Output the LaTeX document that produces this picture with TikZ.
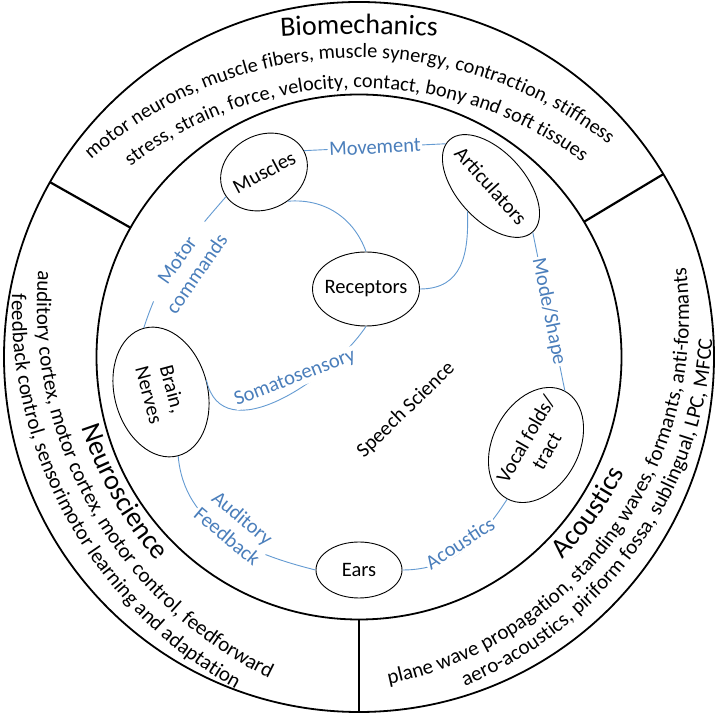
\documentclass[tikz,border=0pt]{standalone}
\usepackage{fontspec}
\setmainfont{Carlito}
\usetikzlibrary{shapes.geometric,decorations.text}
\definecolor{lblue}{RGB}{74,126,187}
\definecolor{cblue}{RGB}{100,155,210}
\newcommand\rfont{\fontsize{21}{21}\selectfont}
\newcommand\rfontb{\fontsize{20.3}{21}\selectfont}
\newcommand\tfont{\fontsize{28}{28}\selectfont}
\newcommand\nfont{\fontsize{20.5}{24}\selectfont}
\newcommand\ringline[6]{%
  \path[decorate,decoration={text along path,text align=center,text color=black,text={|#5|#6}}]
    ([shift={(#3:#2)}]#1) arc[start angle=#3,end angle=#4,radius=#2];}
\begin{document}
\begin{tikzpicture}[x=1pt,y=1pt,
  ellnode/.style={ellipse, draw=black, line width=0.9pt, inner sep=0pt},
  ntext/.style={font=\nfont, align=center, inner sep=0pt},
  conn/.style={draw=cblue, line width=0.9pt},
  lbl/.style={font=\nfont, text=lblue, fill=white, inner sep=1.5pt, align=center},
  ringc/.style={line width=1.8pt},
  divider/.style={line width=2.2pt}]
\useasboundingbox (0,0) rectangle (720,720);
\fill[white] (0,0) rectangle (720,720);
\coordinate (c) at (359,363);
\draw[ringc] (c) circle[radius=355];
\draw[ringc] (c) circle[radius=262.5];
\draw[divider] ([shift={(150.5:262.5)}]c) -- ([shift={(150.5:355)}]c);
\draw[divider] ([shift={(31:262.5)}]c) -- ([shift={(31:355)}]c);
\draw[divider] ([shift={(270:262.5)}]c) -- ([shift={(270:355)}]c);
% ring texts
\coordinate (cbt) at (359,-514);
\coordinate (cb) at (359,259);
\coordinate (cn) at (450,413);
\coordinate (ca) at (313,404);
\ringline{cbt}{1200}{100}{80}{\tfont}{Biomechanics}
\ringline{cb}{403}{161.7}{21.7}{\rfontb}{motor neurons, muscle fibers, muscle synergy, contraction, stiffness}
\ringline{cb}{373}{160.5}{20.5}{\rfontb}{stress, strain, force, velocity, contact, bony and soft tissues}
\ringline{cn}{388}{149.5}{269.5}{\tfont}{Neuroscience}
\ringline{cn}{413}{149.5}{269.5}{\rfont}{auditory cortex, motor cortex, motor control, feedforward}
\ringline{cn}{438}{149.5}{269.5}{\rfont}{feedback control, sensorimotor learning and adaptation}
\ringline{ca}{349}{264.5}{384.5}{\tfont}{Acoustics}
\ringline{ca}{376}{264.5}{384.5}{\rfont}{plane wave propagation, standing waves, formants, anti-formants}
\ringline{ca}{400}{264.5}{384.5}{\rfont}{aero-acoustics, piriform fossa, sublingual, LPC, MFCC}
% nodes
\node[ellnode, minimum width=90pt, minimum height=74pt, rotate=28] (mus) at (264,548) {};
\node[ellnode, minimum width=124pt, minimum height=68pt, rotate=-48] (art) at (491,534) {};
\node[ellnode, minimum width=107pt, minimum height=74pt] (rec) at (366,431) {};
\node[ellnode, minimum width=132pt, minimum height=93pt, rotate=-75] (brn) at (161,328) {};
\node[ellnode, minimum width=122pt, minimum height=86pt, rotate=62] (voc) at (536,275) {};
\node[ellnode, minimum width=86pt, minimum height=56pt] (ear) at (359,150) {};
\node[ntext, rotate=28] (must) at (mus) {Muscles};
\node[ntext, rotate=-48] (artt) at (art) {Articulators};
\node[ntext] (rect) at (rec) {Receptors};
\node[ntext, rotate=-75] (brnt) at (brn) {Brain,\\Nerves};
\node[ntext, rotate=60] (voct) at (voc) {Vocal folds/\\tract};
\node[ntext] (eart) at (ear) {Ears};
\node[ntext, rotate=44] (sci) at (406,310) {Speech Science};
% connectors
\draw[conn] (mus.east) -- node[lbl, sloped] (lmov) {Movement} (art.185);
\draw[conn] (art.east) -- node[lbl, sloped] (lmode) {Mode/Shape} (voc.east);
\draw[conn] (brn.180) to[out=72, in=-131] (mus.185);
\draw[conn] (mus.-79) to[out=5, in=110] (rec.north);
\draw[conn] (rec.east) to[out=0, in=-88, looseness=1.2] (art.-85);
\draw[conn] (brn.90) .. controls (222,268) and (330,340) .. (rec.south);
\draw[conn] (brn.0) to[out=-85, in=166] (ear.west);
\draw[conn] (ear.east) to[out=0, in=-123] (voc.180);
\node[lbl, rotate=55] (lmot) at (187,453) {Motor\\commands};
\node[lbl, rotate=21] (lsom) at (295,342) {Somatosensory};
\node[lbl, rotate=-40] (laud) at (235,193) {Auditory\\Feedback};
\node[lbl, rotate=33] (laco) at (460,177) {Acoustics};
\end{tikzpicture}
\end{document}
